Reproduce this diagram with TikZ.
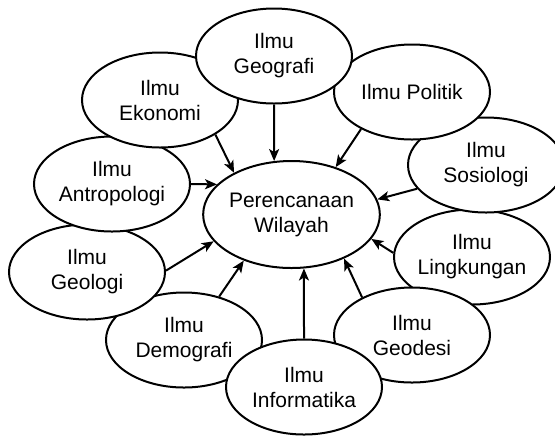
\documentclass[tikz,border=0pt]{standalone}
\usepackage{fontspec}
\setmainfont{Liberation Sans}
\usetikzlibrary{shapes.geometric,arrows.meta}

\begin{document}
\begin{tikzpicture}[x=0.5pt, y=-0.5pt, font=\fontsize{10.5}{12.5}\selectfont,
  field/.style={draw, ellipse, fill=white, line width=1pt, inner sep=0pt,
    minimum width=78pt, minimum height=47.5pt, align=center},
  plan/.style={field, minimum width=87.5pt, minimum height=53.5pt},
  feed/.style={line width=1pt, -{Stealth[length=6pt,width=5pt,inset=1.5pt]}}]
  % Fix the page size
  \useasboundingbox (0,0) rectangle (555,435);

  % Outer ring of fields, drawn back to front
  \node[field] (lingkungan) at (472,257) {Ilmu\\Lingkungan};
  \node[field] (sosiologi) at (486,165) {Ilmu\\Sosiologi};
  \node[field] (politik) at (412,92) {Ilmu Politik};
  \node[field] (geodesi) at (412,335) {Ilmu\\Geodesi};
  \node[field] (demografi) at (184,340) {Ilmu\\Demografi};
  \node[field] (geologi) at (87,272) {Ilmu\\Geologi};
  \node[field] (antropologi) at (112,184) {Ilmu\\Antropologi};
  \node[field] (ekonomi) at (160,100) {Ilmu\\Ekonomi};
  \node[field] (geografi) at (274,56) {Ilmu\\Geografi};
  \node[field] (informatika) at (304,387) {Ilmu\\Informatika};

  % Centre
  \node[plan] (plan) at (291.5,214.5) {Perencanaan\\Wilayah};

  % Arrows into the centre
  \draw[feed] (geografi.270) -- (plan.108);
  \draw[feed] (ekonomi.328) -- (plan.144);
  \draw[feed] (politik.216) -- (plan.47);
  \draw[feed] (antropologi.0) -- (plan.158);
  \draw[feed] (sosiologi.199) -- (plan.10);
  \draw[feed] (geologi.1) -- (plan.199);
  \draw[feed] (demografi.51) -- (plan.224);
  \draw[feed] (informatika.90) -- (plan.283);
  \draw[feed] (geodesi.143) -- (plan.320);
  \draw[feed] (lingkungan.177) -- (plan.343);
\end{tikzpicture}
\end{document}
